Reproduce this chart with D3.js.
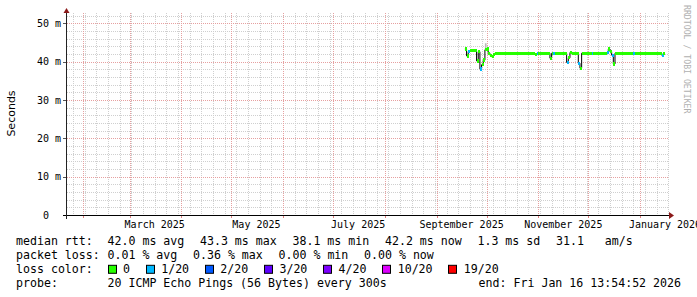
<!DOCTYPE html>
<html>
<head>
<meta charset="utf-8">
<script src="https://cdn.jsdelivr.net/npm/d3@7"></script>
<style>
  body { margin: 0; background: #fff; }
  svg { display: block; }
  text { font-family: "DejaVu Sans Mono", monospace; white-space: pre; }
</style>
</head>
<body>
<svg width="697" height="297"></svg>
<script>
// daily median rtt (ms), first sample on firstDay
const firstDay = "2025-09-18";
const medianMs = [
  43.3, 41.5, 42.6, 42.9, 42.9, 42.9, 42.9, 40.2, 42.6, 38.1,
  39.2, 40.4, 43.1, 43.3, 42.2, 41.7, 41.3, 41.8, 42.2, 42.2,
  42.2, 42.2, 42.2, 42.2, 42.2, 42.2, 42.2, 42.2, 42.2, 42.2,
  42.2, 42.2, 42.2, 42.2, 42.2, 42.2, 42.2, 42.2, 42.2, 42.2,
  42.2, 42.2, 41.9, 42.1, 42.2, 42.2, 42.2, 42.2, 42.2, 42.2,
  42.2, 40.9, 42.2, 42.2, 42.2, 42.2, 42.2, 42.2, 42.2, 42.2,
  42.2, 39.8, 41.0, 42.4, 42.2, 42.2, 42.2, 42.2, 39.6, 38.3,
  42.2, 42.2, 42.2, 42.2, 42.2, 42.2, 42.2, 42.2, 42.2, 42.2,
  42.2, 42.2, 42.2, 42.2, 42.2, 42.4, 43.3, 42.6, 41.7, 39.4,
  42.2, 42.2, 42.2, 42.2, 42.2, 42.2, 42.2, 42.2, 42.2, 42.2,
  42.2, 42.2, 42.2, 42.2, 42.2, 42.2, 42.2, 42.2, 42.2, 42.2,
  42.2, 42.2, 42.2, 42.2, 42.2, 42.2, 42.2, 42.2, 41.7, 42.2
];
// lost pings out of 20, per day
const lossPings = [
  0, 0, 1, 0, 0, 0, 0, 0, 0, 1,
  0, 0, 0, 0, 0, 0, 0, 0, 0, 0,
  0, 0, 0, 0, 0, 0, 0, 0, 0, 0,
  0, 0, 0, 0, 0, 0, 0, 0, 0, 0,
  0, 0, 0, 1, 0, 0, 0, 0, 0, 0,
  0, 0, 0, 1, 0, 0, 0, 0, 0, 0,
  0, 1, 0, 0, 0, 0, 0, 0, 1, 0,
  0, 0, 0, 0, 0, 0, 1, 0, 0, 0,
  0, 0, 0, 0, 0, 1, 0, 0, 1, 0,
  0, 0, 0, 0, 0, 0, 0, 0, 0, 0,
  0, 1, 0, 0, 0, 0, 0, 0, 0, 0,
  0, 0, 0, 0, 0, 0, 0, 0, 1, 0
];
// visible smoke (ping spread)
const smokeDay = ["2025-09-30"];
const smokeLo = [42.9];
const smokeHi = [44.8];

const lossLevels = [0, 1, 2, 3, 4, 10, 19];
const lossLabels = ["0", "1/20", "2/20", "3/20", "4/20", "10/20", "19/20"];
const lossColors = ["#26ff00", "#00b8ff", "#0059ff", "#5e00ff", "#7e00ff", "#dd00ff", "#ff0000"];

const yMajor = [0, 10, 20, 30, 40, 50];
const yLabels = ["0  ", "10 m", "20 m", "30 m", "40 m", "50 m"];

const rttStats = ["42.0 ms avg", "43.3 ms max", "38.1 ms min", "42.2 ms now", "1.3 ms sd", "31.1   am/s"];
const lossStats = ["0.01 % avg", "0.36 % max", "0.00 % min", "0.00 % now"];
const probeText = "20 ICMP Echo Pings (56 Bytes) every 300s";
const endText = "end: Fri Jan 16 13:54:52 2026";

const svg = d3.select("svg");
const pLeft = 67, pRight = 669, pTop = 13, pBottom = 215;

const x = d3.scaleUtc()
  .domain([new Date("2025-01-22T09:45:00Z"), new Date("2026-01-18T09:20:00Z")])
  .range([pLeft, pRight]);
const y = d3.scaleLinear().domain([0, 52.7]).range([pBottom, pTop]);

const px = v => Math.round(v) + 0.5;

// grid
const grid = svg.append("g").attr("stroke-dasharray", "1,1").attr("stroke-width", 1);
grid.selectAll(".vmin").data(d3.utcSunday.range(...x.domain())).join("line")
  .attr("x1", d => px(x(d))).attr("x2", d => px(x(d)))
  .attr("y1", pTop).attr("y2", pBottom)
  .attr("stroke", "#cfcfcf");
grid.selectAll(".hmin").data(d3.range(2, 52.7, 2).filter(v => v % 10)).join("line")
  .attr("x1", pLeft).attr("x2", pRight)
  .attr("y1", d => px(y(d))).attr("y2", d => px(y(d)))
  .attr("stroke", "#cfcfcf");
const months = d3.utcMonth.range(...x.domain());
grid.selectAll(".vmaj").data(months).join("line")
  .attr("x1", d => px(x(d))).attr("x2", d => px(x(d)))
  .attr("y1", pTop).attr("y2", pBottom)
  .attr("stroke", "#e6a0a0");
grid.selectAll(".hmaj").data(yMajor.slice(1)).join("line")
  .attr("x1", pLeft).attr("x2", pRight)
  .attr("y1", d => px(y(d))).attr("y2", d => px(y(d)))
  .attr("stroke", "#e6a0a0");

// ticks outside the axes
const ticks = svg.append("g").attr("stroke-width", 1);
ticks.selectAll(".tmaj").data(months).join("line")
  .attr("x1", d => px(x(d))).attr("x2", d => px(x(d)))
  .attr("y1", pBottom).attr("y2", pBottom + 3).attr("stroke", "#e08080");
ticks.selectAll(".ymaj").data(yMajor).join("line")
  .attr("x1", pLeft - 4).attr("x2", pLeft)
  .attr("y1", d => px(y(d))).attr("y2", d => px(y(d))).attr("stroke", "#555");

// data
const day0 = new Date(firstDay + "T00:00:00Z");
const days = medianMs.map((m, i) => d3.utcDay.offset(day0, i));
const dayEnd = d => d3.utcDay.offset(d, 1);

svg.append("g").selectAll("rect").data(smokeDay).join("rect")
  .attr("x", d => x(new Date(d + "T00:00:00Z")))
  .attr("width", d => x(dayEnd(new Date(d + "T00:00:00Z"))) - x(new Date(d + "T00:00:00Z")))
  .attr("y", (d, i) => y(smokeHi[i]))
  .attr("height", (d, i) => y(smokeLo[i]) - y(smokeHi[i]))
  .attr("fill", "#b8b8b8");

const pts = days.map((d, i) => [x(d), y(medianMs[i])]);
pts.push([x(dayEnd(days[days.length - 1])), y(medianMs[medianMs.length - 1])]);
svg.append("path")
  .attr("d", d3.line().curve(d3.curveStepAfter)(pts))
  .attr("fill", "none").attr("stroke", "#000").attr("stroke-width", 1);

const sw = 0.43;
const bucket = l => d3.bisectRight(lossLevels, l) - 1;
svg.append("g").attr("shape-rendering", "crispEdges")
  .selectAll("rect").data(days).join("rect")
  .attr("x", d => x(d))
  .attr("width", d => x(dayEnd(d)) - x(d) + 0.3)
  .attr("y", (d, i) => y(medianMs[i] + sw))
  .attr("height", (d, i) => y(medianMs[i] - sw) - y(medianMs[i] + sw))
  .attr("fill", (d, i) => lossColors[bucket(lossPings[i])]);

// axes
svg.append("line").attr("x1", pLeft - 4).attr("x2", pRight).attr("y1", pBottom + 0.5).attr("y2", pBottom + 0.5)
  .attr("stroke", "#000");
svg.append("line").attr("x1", pLeft - 0.5).attr("x2", pLeft - 0.5).attr("y1", pBottom + 4).attr("y2", pTop - 1)
  .attr("stroke", "#222");
svg.append("path").attr("d", `M${pRight},${pBottom - 3}L${pRight + 5},${pBottom + 0.5}L${pRight},${pBottom + 4}Z`)
  .attr("fill", "#8b1a1a");
svg.append("path").attr("d", `M${pLeft - 3.5},${pTop}L${pLeft - 0.5},${pTop - 5}L${pLeft + 2.5},${pTop}Z`)
  .attr("fill", "#8b1a1a");

// y labels
svg.append("g").selectAll("text").data(yMajor).join("text")
  .attr("x", pLeft - 6).attr("y", d => y(d)).attr("dy", "0.35em")
  .attr("text-anchor", "end").attr("font-size", 10)
  .text((d, i) => yLabels[i]);

// x labels, centred in the middle of every second month
const fmt = d3.utcFormat("%B %Y");
const labelMonths = d3.utcMonth.every(2).range(new Date("2025-01-01T00:00:00Z"), x.domain()[1])
  .filter(d => { const c = x(d3.utcDay.offset(d, 15)); return c > pLeft && c < pRight; });
svg.append("g").selectAll("text").data(labelMonths).join("text")
  .attr("x", d => x(d3.utcDay.offset(d, 15))).attr("y", 228)
  .attr("text-anchor", "middle").attr("font-size", 10)
  .text(fmt);

// titles
svg.append("text").attr("transform", "translate(15,113.5) rotate(-90)")
  .attr("text-anchor", "middle").attr("font-size", 11)
  .style("font-family", "'DejaVu Sans', sans-serif").text("Seconds");
svg.append("text").attr("transform", "translate(684,5) rotate(90)")
  .attr("font-size", 8.2).attr("fill", "#b0b0b0").text("RRDTOOL / TOBI OETIKER");

// legend
const fs = 11.6, col0 = 16, col1 = 107.5, gap = 15.7;
const rows = [245, 259.3, 273.3, 287.3];
const leg = svg.append("g").attr("font-size", fs);

function row(yy, label, items) {
  leg.append("text").attr("x", col0).attr("y", yy).text(label);
  let cx = col1;
  items.forEach(s => {
    const t = leg.append("text").attr("x", cx).attr("y", yy).text(s);
    cx += t.node().getComputedTextLength() + gap;
  });
}
row(rows[0], "median rtt:", rttStats);
row(rows[1], "packet loss:", lossStats);

leg.append("text").attr("x", col0).attr("y", rows[2]).text("loss color:");
let cx = col1;
lossLabels.forEach((s, i) => {
  leg.append("rect").attr("x", Math.round(cx) + 0.5).attr("y", rows[2] - 8).attr("width", 8).attr("height", 8)
    .attr("fill", lossColors[i]).attr("stroke", "#000");
  const t = leg.append("text").attr("x", cx + 15.5).attr("y", rows[2]).text(s);
  cx += 15.5 + t.node().getComputedTextLength() + gap;
});

row(rows[3], "probe:", [probeText]);
leg.append("text").attr("x", 681).attr("y", rows[3]).attr("text-anchor", "end").text(endText);
</script>
</body>
</html>
